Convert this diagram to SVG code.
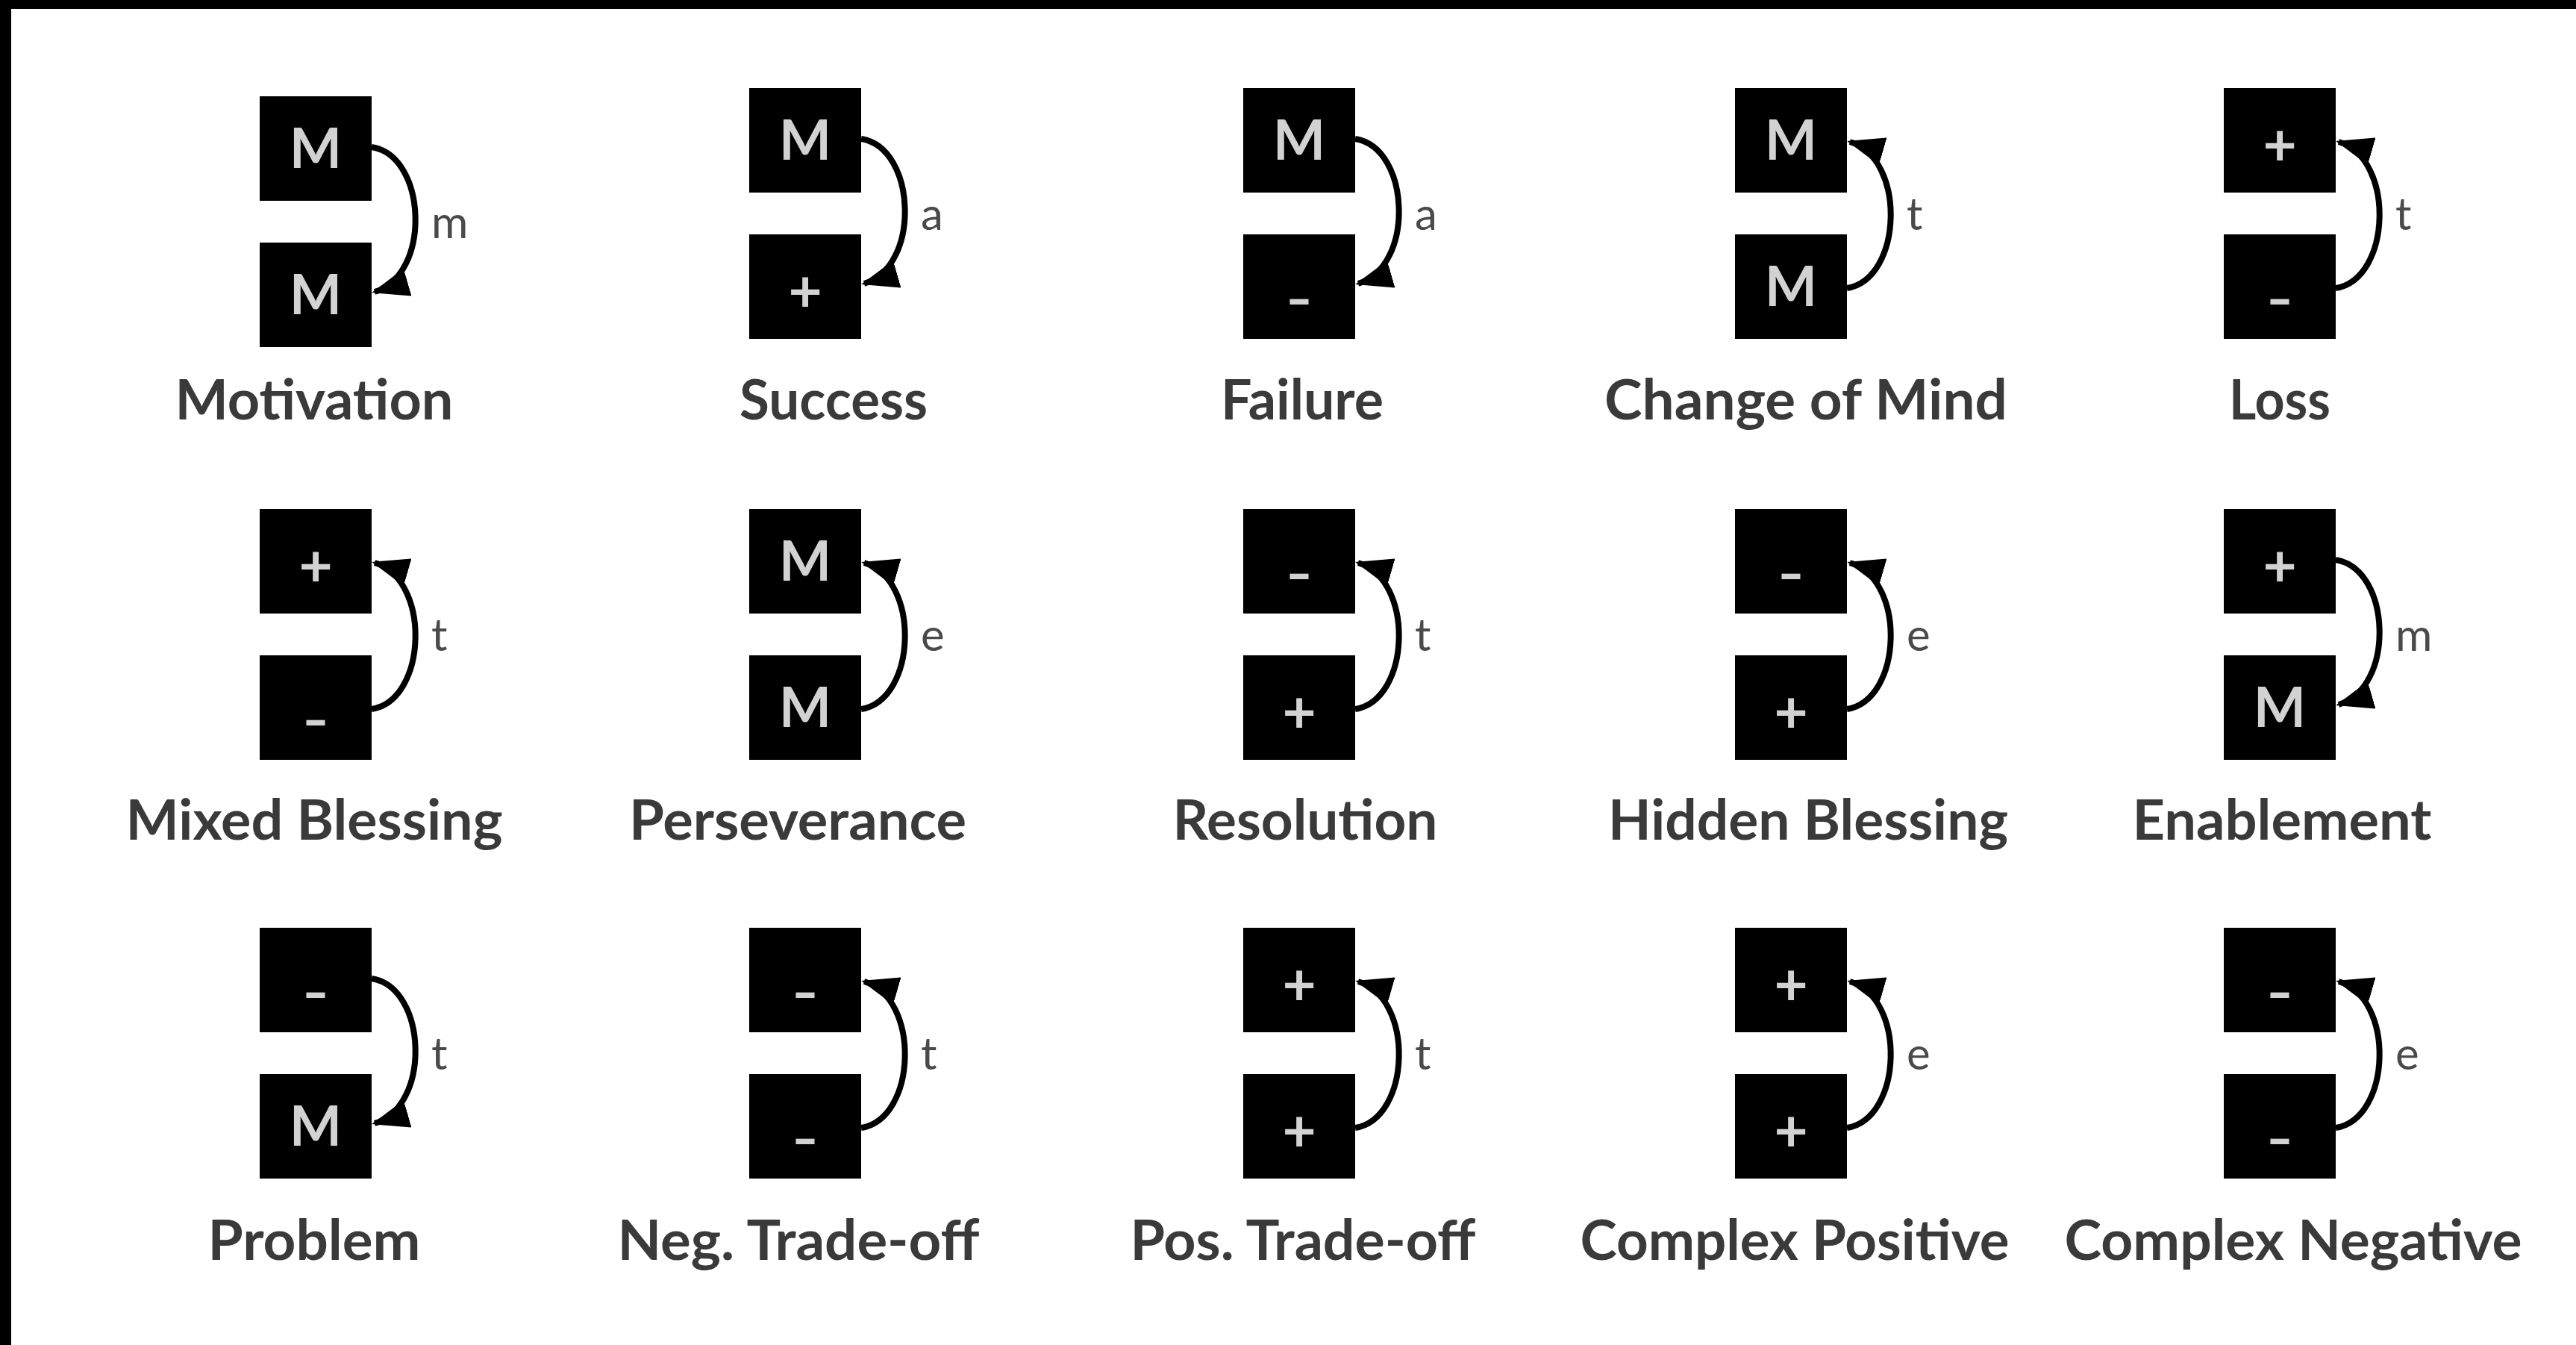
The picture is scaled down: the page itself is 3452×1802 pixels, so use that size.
<svg xmlns="http://www.w3.org/2000/svg" width="3452" height="1802" viewBox="0 0 3452 1802">
<style>
.bg{fill:#ffffff}
.frame{fill:#000000}
.box{fill:#000000}
.sym{font-family:Lato,"Liberation Sans",sans-serif;font-weight:700;font-size:74px;fill:#d2d2d2;text-anchor:middle}
.plus{font-family:Lato,"Liberation Sans",sans-serif;font-weight:700;font-size:78px;fill:#d2d2d2;text-anchor:middle}
.dash{font-family:Lato,"Liberation Sans",sans-serif;font-weight:700;font-size:70px;fill:#d2d2d2}
.cap{font-family:Lato,"Liberation Sans",sans-serif;font-weight:700;font-size:74px;fill:#3a3a3a}
.lab{font-family:Lato,"Liberation Sans",sans-serif;font-weight:400;font-size:60px;fill:#4a4a4a}
.arc{fill:none;stroke:#000000;stroke-width:8;marker-end:url(#ah)}
</style>
<defs>
<marker id="ah" markerUnits="userSpaceOnUse" viewBox="0 -19 50 38" refX="46" refY="0" markerWidth="50" markerHeight="38" orient="auto">
<path d="M50,0 L0,-19 L0,19 Z" fill="#000000"/>
</marker>
</defs>
<rect class="bg" x="0" y="0" width="3452" height="1802"/>
<rect class="frame" x="0" y="0" width="3452" height="12"/>
<rect class="frame" x="0" y="0" width="15" height="1802"/>

<!-- Row 1 -->
<g id="motivation">
<g id="motivation-top"><rect class="box" x="348" y="129" width="150" height="140"/><text class="sym" x="423" y="225">M</text></g>
<g id="motivation-bottom"><rect class="box" x="348" y="325" width="150" height="140"/><text class="sym" x="423" y="421">M</text></g>
<text class="cap" x="234.5" y="562" textLength="373" lengthAdjust="spacingAndGlyphs">Motivation</text>
</g>
<g id="success">
<g id="success-top"><rect class="box" x="1004" y="118" width="150" height="140"/><text class="sym" x="1079" y="214">M</text></g>
<g id="success-bottom"><rect class="box" x="1004" y="314" width="150" height="140"/><text class="plus" x="1079" y="418">+</text></g>
<text class="cap" x="991" y="562" textLength="252" lengthAdjust="spacingAndGlyphs">Success</text>
</g>
<g id="failure">
<g id="failure-top"><rect class="box" x="1666" y="118" width="150" height="140"/><text class="sym" x="1741" y="214">M</text></g>
<g id="failure-bottom"><rect class="box" x="1666" y="314" width="150" height="140"/><text class="dash" x="1723" y="426" textLength="36" lengthAdjust="spacingAndGlyphs">-</text></g>
<text class="cap" x="1636" y="562" textLength="218" lengthAdjust="spacingAndGlyphs">Failure</text>
</g>
<g id="change-of-mind">
<g id="change-of-mind-top"><rect class="box" x="2325" y="118" width="150" height="140"/><text class="sym" x="2400" y="214">M</text></g>
<g id="change-of-mind-bottom"><rect class="box" x="2325" y="314" width="150" height="140"/><text class="sym" x="2400" y="410">M</text></g>
<text class="cap" x="2150" y="562" textLength="540" lengthAdjust="spacingAndGlyphs">Change of Mind</text>
</g>
<g id="loss">
<g id="loss-top"><rect class="box" x="2980" y="118" width="150" height="140"/><text class="plus" x="3055" y="222">+</text></g>
<g id="loss-bottom"><rect class="box" x="2980" y="314" width="150" height="140"/><text class="dash" x="3037" y="426" textLength="36" lengthAdjust="spacingAndGlyphs">-</text></g>
<text class="cap" x="2987" y="562" textLength="136" lengthAdjust="spacingAndGlyphs">Loss</text>
</g>

<!-- Row 2 -->
<g id="mixed-blessing">
<g id="mixed-blessing-top"><rect class="box" x="348" y="682" width="150" height="140"/><text class="plus" x="423" y="786">+</text></g>
<g id="mixed-blessing-bottom"><rect class="box" x="348" y="878" width="150" height="140"/><text class="dash" x="405" y="990" textLength="36" lengthAdjust="spacingAndGlyphs">-</text></g>
<text class="cap" x="168.5" y="1125" textLength="505" lengthAdjust="spacingAndGlyphs">Mixed Blessing</text>
</g>
<g id="perseverance">
<g id="perseverance-top"><rect class="box" x="1004" y="682" width="150" height="140"/><text class="sym" x="1079" y="778">M</text></g>
<g id="perseverance-bottom"><rect class="box" x="1004" y="878" width="150" height="140"/><text class="sym" x="1079" y="974">M</text></g>
<text class="cap" x="843" y="1125" textLength="452" lengthAdjust="spacingAndGlyphs">Perseverance</text>
</g>
<g id="resolution">
<g id="resolution-top"><rect class="box" x="1666" y="682" width="150" height="140"/><text class="dash" x="1723" y="794" textLength="36" lengthAdjust="spacingAndGlyphs">-</text></g>
<g id="resolution-bottom"><rect class="box" x="1666" y="878" width="150" height="140"/><text class="plus" x="1741" y="982">+</text></g>
<text class="cap" x="1571.5" y="1125" textLength="355" lengthAdjust="spacingAndGlyphs">Resolution</text>
</g>
<g id="hidden-blessing">
<g id="hidden-blessing-top"><rect class="box" x="2325" y="682" width="150" height="140"/><text class="dash" x="2382" y="794" textLength="36" lengthAdjust="spacingAndGlyphs">-</text></g>
<g id="hidden-blessing-bottom"><rect class="box" x="2325" y="878" width="150" height="140"/><text class="plus" x="2400" y="982">+</text></g>
<text class="cap" x="2155" y="1125" textLength="536" lengthAdjust="spacingAndGlyphs">Hidden Blessing</text>
</g>
<g id="enablement">
<g id="enablement-top"><rect class="box" x="2980" y="682" width="150" height="140"/><text class="plus" x="3055" y="786">+</text></g>
<g id="enablement-bottom"><rect class="box" x="2980" y="878" width="150" height="140"/><text class="sym" x="3055" y="974">M</text></g>
<text class="cap" x="2857.5" y="1125" textLength="401" lengthAdjust="spacingAndGlyphs">Enablement</text>
</g>

<!-- Row 3 -->
<g id="problem">
<g id="problem-top"><rect class="box" x="348" y="1243" width="150" height="140"/><text class="dash" x="405" y="1355" textLength="36" lengthAdjust="spacingAndGlyphs">-</text></g>
<g id="problem-bottom"><rect class="box" x="348" y="1439" width="150" height="140"/><text class="sym" x="423" y="1535">M</text></g>
<text class="cap" x="278.5" y="1688" textLength="285" lengthAdjust="spacingAndGlyphs">Problem</text>
</g>
<g id="neg-trade-off">
<g id="neg-trade-off-top"><rect class="box" x="1004" y="1243" width="150" height="140"/><text class="dash" x="1061" y="1355" textLength="36" lengthAdjust="spacingAndGlyphs">-</text></g>
<g id="neg-trade-off-bottom"><rect class="box" x="1004" y="1439" width="150" height="140"/><text class="dash" x="1061" y="1551" textLength="36" lengthAdjust="spacingAndGlyphs">-</text></g>
<text class="cap" x="827.5" y="1688" textLength="485" lengthAdjust="spacingAndGlyphs">Neg. Trade-off</text>
</g>
<g id="pos-trade-off">
<g id="pos-trade-off-top"><rect class="box" x="1666" y="1243" width="150" height="140"/><text class="plus" x="1741" y="1347">+</text></g>
<g id="pos-trade-off-bottom"><rect class="box" x="1666" y="1439" width="150" height="140"/><text class="plus" x="1741" y="1543">+</text></g>
<text class="cap" x="1514.5" y="1688" textLength="463" lengthAdjust="spacingAndGlyphs">Pos. Trade-off</text>
</g>
<g id="complex-positive">
<g id="complex-positive-top"><rect class="box" x="2325" y="1243" width="150" height="140"/><text class="plus" x="2400" y="1347">+</text></g>
<g id="complex-positive-bottom"><rect class="box" x="2325" y="1439" width="150" height="140"/><text class="plus" x="2400" y="1543">+</text></g>
<text class="cap" x="2117.5" y="1688" textLength="575" lengthAdjust="spacingAndGlyphs">Complex Positive</text>
</g>
<g id="complex-negative">
<g id="complex-negative-top"><rect class="box" x="2980" y="1243" width="150" height="140"/><text class="dash" x="3037" y="1355" textLength="36" lengthAdjust="spacingAndGlyphs">-</text></g>
<g id="complex-negative-bottom"><rect class="box" x="2980" y="1439" width="150" height="140"/><text class="dash" x="3037" y="1551" textLength="36" lengthAdjust="spacingAndGlyphs">-</text></g>
<text class="cap" x="2766.5" y="1688" textLength="613" lengthAdjust="spacingAndGlyphs">Complex Negative</text>
</g>

<g id="connectors">
<path class="arc" d="M498,197 C573,209 578,369 502,391"/>
<text class="lab" x="578" y="319">m</text>
<path class="arc" d="M1154,186 C1229,198 1234,358 1158,380"/>
<text class="lab" x="1234" y="308">a</text>
<path class="arc" d="M1816,186 C1891,198 1896,358 1820,380"/>
<text class="lab" x="1896" y="308">a</text>
<path class="arc" d="M2475,386 C2550,374 2555,212 2479,190"/>
<text class="lab" x="2555" y="308">t</text>
<path class="arc" d="M3130,386 C3205,374 3210,212 3134,190"/>
<text class="lab" x="3210" y="308">t</text>

<path class="arc" d="M498,950 C573,938 578,776 502,754"/>
<text class="lab" x="578" y="872">t</text>
<path class="arc" d="M1154,950 C1229,938 1234,776 1158,754"/>
<text class="lab" x="1234" y="872">e</text>
<path class="arc" d="M1816,950 C1891,938 1896,776 1820,754"/>
<text class="lab" x="1896" y="872">t</text>
<path class="arc" d="M2475,950 C2550,938 2555,776 2479,754"/>
<text class="lab" x="2555" y="872">e</text>
<path class="arc" d="M3130,750 C3205,762 3210,922 3134,944"/>
<text class="lab" x="3210" y="872">m</text>

<path class="arc" d="M498,1311 C573,1323 578,1483 502,1505"/>
<text class="lab" x="578" y="1433">t</text>
<path class="arc" d="M1154,1511 C1229,1499 1234,1337 1158,1315"/>
<text class="lab" x="1234" y="1433">t</text>
<path class="arc" d="M1816,1511 C1891,1499 1896,1337 1820,1315"/>
<text class="lab" x="1896" y="1433">t</text>
<path class="arc" d="M2475,1511 C2550,1499 2555,1337 2479,1315"/>
<text class="lab" x="2555" y="1433">e</text>
<path class="arc" d="M3130,1511 C3205,1499 3210,1337 3134,1315"/>
<text class="lab" x="3210" y="1433">e</text>
</g>
</svg>
